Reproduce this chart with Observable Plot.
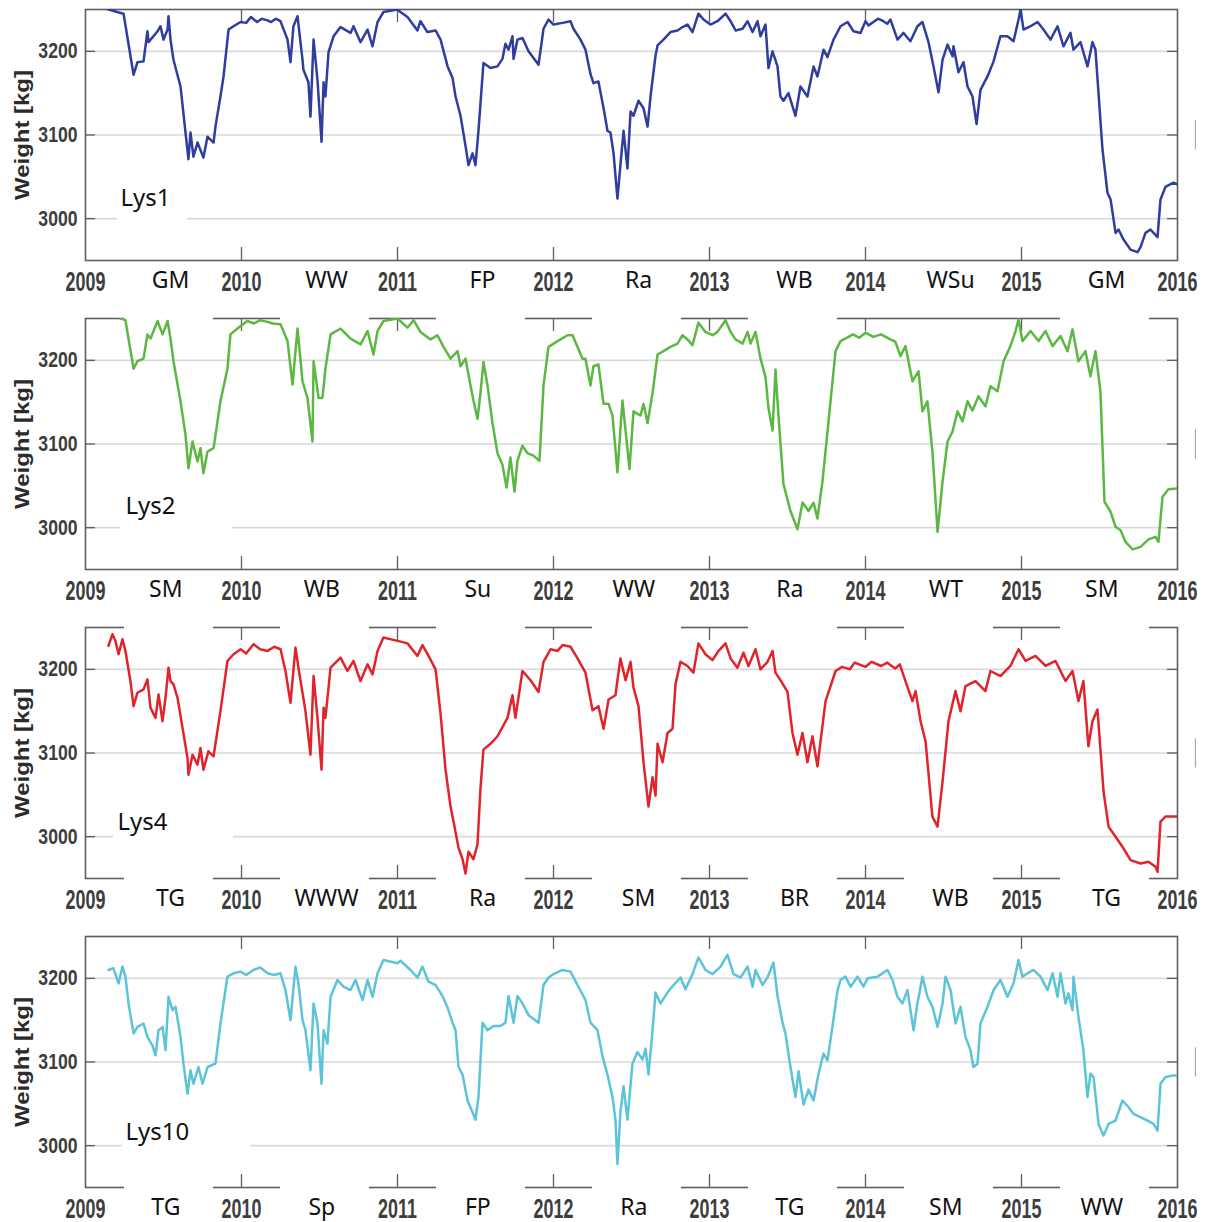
<!DOCTYPE html>
<html><head><meta charset="utf-8">
<script src="https://cdn.jsdelivr.net/npm/d3@7"></script>
<script src="https://cdn.jsdelivr.net/npm/@observablehq/plot@0.6"></script>
<style>body{margin:0;background:#fff}#chart{width:1205px}#chart svg{display:block}</style>
</head><body><div id="chart"></div>
<script>
// ---------- DATA ----------
const years = [2009, 2010, 2011, 2012, 2013, 2014, 2015, 2016];
const cropYears = [2009, 2010, 2011, 2012, 2013, 2014, 2015];
const yTicks = [3000, 3100, 3200];

const lysNames = ["Lys1", "Lys2", "Lys4", "Lys10"];
const lys1Crops = ["GM", "WW", "FP", "Ra", "WB", "WSu", "GM"];
const lys2Crops = ["SM", "WB", "Su", "WW", "Ra", "WT", "SM"];
const lys4Crops = ["TG", "WWW", "Ra", "SM", "BR", "WB", "TG"];
const lys10Crops = ["TG", "Sp", "FP", "Ra", "TG", "SM", "WW"];

// [decimal year, weight kg]
const lys1 = [[2009.147,3250],[2009.244,3245],[2009.308,3172],[2009.333,3187],[2009.372,3188],[2009.397,3224],[2009.404,3211],[2009.462,3224],[2009.481,3230],[2009.500,3214],[2009.526,3226],[2009.532,3242],[2009.545,3214],[2009.564,3190],[2009.609,3158],[2009.641,3103],[2009.660,3071],[2009.673,3103],[2009.692,3074],[2009.718,3091],[2009.756,3073],[2009.782,3098],[2009.821,3091],[2009.833,3110],[2009.865,3146],[2009.885,3170],[2009.917,3226],[2009.949,3230],[2009.994,3235],[2010.030,3234],[2010.060,3241],[2010.100,3235],[2010.130,3239],[2010.167,3237],[2010.190,3235],[2010.220,3239],[2010.250,3236],[2010.295,3214],[2010.314,3187],[2010.333,3230],[2010.359,3242],[2010.391,3190],[2010.397,3178],[2010.429,3163],[2010.442,3122],[2010.462,3214],[2010.487,3166],[2010.513,3092],[2010.526,3163],[2010.538,3146],[2010.558,3199],[2010.590,3218],[2010.635,3229],[2010.699,3222],[2010.718,3230],[2010.763,3211],[2010.808,3226],[2010.840,3206],[2010.872,3235],[2010.910,3247],[2011.000,3250],[2011.019,3247],[2011.064,3241],[2011.128,3225],[2011.147,3236],[2011.192,3223],[2011.244,3225],[2011.276,3214],[2011.321,3182],[2011.353,3168],[2011.372,3146],[2011.404,3123],[2011.436,3087],[2011.455,3064],[2011.481,3078],[2011.500,3064],[2011.519,3105],[2011.551,3186],[2011.596,3180],[2011.641,3182],[2011.673,3191],[2011.692,3209],[2011.712,3202],[2011.737,3218],[2011.744,3191],[2011.769,3214],[2011.801,3216],[2011.840,3200],[2011.904,3184],[2011.936,3227],[2011.968,3238],[2012.000,3232],[2012.058,3234],[2012.109,3236],[2012.128,3227],[2012.173,3214],[2012.205,3202],[2012.237,3173],[2012.256,3162],[2012.288,3164],[2012.321,3132],[2012.346,3105],[2012.365,3103],[2012.385,3078],[2012.410,3024],[2012.429,3064],[2012.449,3105],[2012.474,3060],[2012.494,3128],[2012.513,3123],[2012.545,3141],[2012.577,3132],[2012.603,3110],[2012.622,3146],[2012.654,3195],[2012.667,3207],[2012.705,3214],[2012.750,3223],[2012.795,3225],[2012.827,3229],[2012.859,3232],[2012.891,3223],[2012.929,3245],[2012.962,3238],[2013.006,3232],[2013.051,3236],[2013.103,3245],[2013.135,3236],[2013.167,3225],[2013.212,3227],[2013.244,3236],[2013.276,3223],[2013.308,3236],[2013.327,3218],[2013.359,3232],[2013.378,3180],[2013.404,3200],[2013.436,3182],[2013.455,3146],[2013.474,3141],[2013.506,3150],[2013.551,3123],[2013.583,3158],[2013.628,3146],[2013.667,3182],[2013.692,3170],[2013.731,3202],[2013.756,3193],[2013.795,3214],[2013.840,3230],[2013.885,3235],[2013.923,3224],[2013.968,3222],[2014.000,3236],[2014.020,3231],[2014.051,3235],[2014.080,3239],[2014.115,3236],[2014.140,3233],[2014.160,3238],[2014.205,3214],[2014.244,3222],[2014.288,3212],[2014.333,3230],[2014.365,3235],[2014.404,3211],[2014.436,3182],[2014.468,3151],[2014.494,3190],[2014.526,3208],[2014.558,3194],[2014.564,3206],[2014.596,3175],[2014.628,3187],[2014.654,3158],[2014.686,3146],[2014.712,3113],[2014.737,3154],[2014.782,3170],[2014.821,3188],[2014.865,3218],[2014.910,3218],[2014.949,3212],[2014.981,3238],[2014.994,3250],[2015.013,3226],[2015.058,3230],[2015.103,3235],[2015.141,3226],[2015.186,3214],[2015.231,3230],[2015.269,3206],[2015.314,3222],[2015.333,3202],[2015.378,3211],[2015.423,3182],[2015.455,3211],[2015.474,3202],[2015.519,3083],[2015.551,3031],[2015.571,3023],[2015.603,2983],[2015.622,2987],[2015.654,2975],[2015.699,2963],[2015.744,2960],[2015.763,2966],[2015.795,2983],[2015.827,2987],[2015.872,2978],[2015.891,3023],[2015.923,3038],[2015.974,3043],[2016.000,3041]];

const lys2 = [[2009.224,3250],[2009.256,3248],[2009.308,3190],[2009.333,3199],[2009.372,3202],[2009.397,3231],[2009.417,3226],[2009.462,3247],[2009.494,3231],[2009.526,3247],[2009.545,3226],[2009.564,3199],[2009.609,3151],[2009.641,3111],[2009.660,3071],[2009.686,3103],[2009.718,3079],[2009.737,3095],[2009.756,3065],[2009.782,3091],[2009.821,3095],[2009.865,3151],[2009.910,3190],[2009.929,3231],[2009.974,3238],[2010.038,3247],[2010.080,3244],[2010.120,3248],[2010.167,3246],[2010.200,3244],[2010.250,3243],[2010.295,3223],[2010.327,3171],[2010.359,3238],[2010.391,3175],[2010.423,3155],[2010.455,3103],[2010.462,3199],[2010.494,3155],[2010.519,3155],[2010.538,3190],[2010.571,3231],[2010.635,3238],[2010.699,3226],[2010.763,3219],[2010.808,3235],[2010.846,3207],[2010.872,3235],[2010.910,3247],[2011.000,3250],[2011.064,3239],[2011.103,3248],[2011.147,3234],[2011.212,3225],[2011.256,3230],[2011.295,3216],[2011.340,3202],[2011.385,3211],[2011.404,3193],[2011.436,3202],[2011.468,3170],[2011.487,3152],[2011.513,3130],[2011.532,3161],[2011.551,3198],[2011.577,3170],[2011.609,3125],[2011.641,3089],[2011.673,3075],[2011.699,3048],[2011.724,3084],[2011.750,3043],[2011.769,3080],[2011.801,3098],[2011.833,3089],[2011.872,3086],[2011.910,3080],[2011.936,3170],[2011.968,3216],[2012.000,3220],[2012.045,3225],[2012.090,3230],[2012.122,3230],[2012.154,3216],[2012.186,3202],[2012.205,3202],[2012.237,3170],[2012.256,3193],[2012.288,3195],[2012.321,3148],[2012.353,3148],[2012.378,3134],[2012.410,3066],[2012.442,3152],[2012.462,3116],[2012.487,3070],[2012.513,3139],[2012.558,3134],[2012.577,3148],[2012.603,3125],[2012.635,3161],[2012.667,3207],[2012.705,3211],[2012.750,3216],[2012.795,3220],[2012.827,3230],[2012.859,3225],[2012.891,3218],[2012.929,3245],[2012.974,3234],[2013.019,3230],[2013.051,3234],[2013.103,3248],[2013.135,3234],[2013.167,3225],[2013.212,3220],[2013.244,3234],[2013.263,3220],[2013.295,3234],[2013.327,3202],[2013.359,3180],[2013.378,3143],[2013.404,3116],[2013.423,3189],[2013.442,3134],[2013.474,3052],[2013.519,3020],[2013.564,2998],[2013.596,3030],[2013.635,3020],[2013.667,3030],[2013.692,3011],[2013.724,3055],[2013.763,3127],[2013.808,3211],[2013.840,3223],[2013.870,3226],[2013.920,3231],[2013.960,3227],[2014.000,3233],[2014.050,3228],[2014.100,3231],[2014.150,3226],[2014.192,3222],[2014.224,3205],[2014.256,3217],[2014.301,3175],[2014.340,3187],[2014.365,3139],[2014.397,3151],[2014.429,3091],[2014.462,2995],[2014.494,3055],[2014.526,3103],[2014.558,3115],[2014.590,3139],[2014.622,3127],[2014.654,3151],[2014.686,3140],[2014.724,3157],[2014.769,3145],[2014.801,3169],[2014.846,3163],[2014.885,3199],[2014.929,3217],[2014.962,3235],[2014.981,3249],[2015.006,3223],[2015.058,3235],[2015.109,3223],[2015.154,3235],[2015.199,3217],[2015.250,3229],[2015.295,3211],[2015.327,3237],[2015.365,3199],[2015.410,3211],[2015.442,3181],[2015.474,3211],[2015.506,3163],[2015.532,3031],[2015.571,3019],[2015.603,3001],[2015.635,2997],[2015.667,2983],[2015.712,2974],[2015.763,2977],[2015.814,2986],[2015.859,2989],[2015.878,2983],[2015.904,3037],[2015.942,3046],[2016.000,3047]];

const lys4 = [[2009.147,3228],[2009.173,3242],[2009.192,3234],[2009.212,3218],[2009.237,3236],[2009.256,3222],[2009.288,3186],[2009.308,3156],[2009.333,3172],[2009.372,3176],[2009.397,3188],[2009.417,3154],[2009.449,3142],[2009.468,3170],[2009.494,3138],[2009.513,3166],[2009.532,3202],[2009.545,3186],[2009.564,3182],[2009.590,3166],[2009.622,3130],[2009.654,3094],[2009.660,3074],[2009.686,3098],[2009.718,3086],[2009.737,3106],[2009.756,3080],[2009.788,3102],[2009.821,3096],[2009.865,3150],[2009.910,3210],[2009.949,3218],[2009.994,3224],[2010.030,3219],[2010.077,3230],[2010.120,3224],[2010.167,3222],[2010.210,3227],[2010.250,3224],[2010.282,3198],[2010.314,3160],[2010.346,3226],[2010.365,3202],[2010.391,3172],[2010.410,3150],[2010.442,3098],[2010.462,3192],[2010.487,3142],[2010.513,3080],[2010.526,3154],[2010.538,3142],[2010.571,3202],[2010.635,3214],[2010.679,3198],[2010.718,3210],[2010.763,3186],[2010.808,3206],[2010.840,3194],[2010.872,3222],[2010.910,3238],[2011.000,3234],[2011.064,3231],[2011.128,3216],[2011.160,3229],[2011.199,3216],[2011.244,3200],[2011.276,3147],[2011.308,3080],[2011.340,3036],[2011.359,3018],[2011.391,2987],[2011.417,2973],[2011.436,2956],[2011.455,2982],[2011.487,2973],[2011.513,2991],[2011.532,3058],[2011.551,3104],[2011.596,3111],[2011.641,3120],[2011.679,3133],[2011.705,3142],[2011.737,3169],[2011.756,3142],[2011.801,3198],[2011.853,3187],[2011.904,3173],[2011.936,3209],[2011.981,3224],[2012.026,3222],[2012.058,3229],[2012.109,3227],[2012.154,3213],[2012.205,3196],[2012.250,3151],[2012.288,3156],[2012.321,3129],[2012.353,3164],[2012.397,3169],[2012.429,3213],[2012.462,3187],[2012.494,3209],[2012.513,3178],[2012.545,3156],[2012.577,3089],[2012.609,3036],[2012.635,3071],[2012.654,3049],[2012.667,3111],[2012.699,3089],[2012.731,3124],[2012.763,3129],[2012.782,3182],[2012.814,3209],[2012.859,3204],[2012.897,3196],[2012.929,3231],[2012.974,3218],[2013.019,3211],[2013.058,3222],[2013.103,3231],[2013.135,3213],[2013.179,3202],[2013.218,3220],[2013.250,3204],[2013.295,3224],[2013.327,3200],[2013.372,3209],[2013.404,3222],[2013.423,3196],[2013.455,3187],[2013.500,3173],[2013.532,3124],[2013.564,3098],[2013.596,3124],[2013.628,3089],[2013.660,3120],[2013.692,3084],[2013.744,3162],[2013.808,3198],[2013.850,3203],[2013.900,3200],[2013.930,3208],[2014.000,3203],[2014.040,3209],[2014.100,3204],[2014.140,3208],[2014.190,3201],[2014.220,3206],[2014.256,3186],[2014.301,3162],[2014.321,3174],[2014.353,3138],[2014.385,3114],[2014.429,3024],[2014.462,3012],[2014.494,3066],[2014.532,3138],[2014.577,3174],[2014.609,3150],[2014.641,3180],[2014.705,3186],[2014.769,3174],[2014.801,3198],[2014.865,3192],[2014.929,3204],[2014.981,3224],[2015.026,3210],[2015.090,3216],[2015.154,3204],[2015.218,3210],[2015.282,3186],[2015.327,3198],[2015.365,3162],[2015.397,3186],[2015.429,3108],[2015.455,3138],[2015.487,3152],[2015.526,3054],[2015.558,3012],[2015.603,3000],[2015.647,2988],[2015.699,2972],[2015.763,2968],[2015.814,2970],[2015.859,2964],[2015.872,2958],[2015.891,3018],[2015.923,3024],[2016.000,3024]];

const lys10 = [[2009.147,3210],[2009.179,3212],[2009.212,3194],[2009.237,3214],[2009.256,3202],[2009.276,3170],[2009.308,3134],[2009.333,3142],[2009.372,3146],[2009.397,3130],[2009.429,3120],[2009.449,3108],[2009.468,3138],[2009.494,3142],[2009.513,3114],[2009.532,3178],[2009.558,3162],[2009.577,3166],[2009.609,3130],[2009.628,3098],[2009.654,3062],[2009.673,3090],[2009.692,3074],[2009.724,3094],[2009.750,3074],[2009.782,3094],[2009.833,3098],[2009.865,3146],[2009.910,3202],[2009.949,3206],[2009.994,3208],[2010.030,3204],[2010.077,3210],[2010.120,3213],[2010.167,3206],[2010.210,3204],[2010.250,3206],[2010.282,3186],[2010.314,3150],[2010.346,3214],[2010.365,3194],[2010.391,3150],[2010.410,3138],[2010.442,3090],[2010.462,3170],[2010.487,3146],[2010.513,3074],[2010.526,3138],[2010.551,3122],[2010.571,3178],[2010.615,3198],[2010.654,3190],[2010.699,3186],[2010.731,3198],[2010.776,3174],[2010.808,3198],[2010.840,3178],[2010.872,3206],[2010.910,3222],[2011.000,3218],[2011.019,3221],[2011.083,3210],[2011.128,3201],[2011.160,3214],[2011.199,3196],[2011.244,3192],[2011.288,3179],[2011.321,3165],[2011.353,3147],[2011.372,3138],[2011.391,3094],[2011.417,3085],[2011.449,3054],[2011.481,3040],[2011.500,3031],[2011.519,3058],[2011.545,3147],[2011.577,3138],[2011.615,3143],[2011.660,3143],[2011.692,3147],[2011.712,3179],[2011.744,3147],[2011.769,3179],[2011.801,3170],[2011.840,3156],[2011.904,3147],[2011.936,3192],[2011.968,3201],[2012.000,3205],[2012.058,3210],[2012.109,3208],[2012.154,3192],[2012.205,3174],[2012.237,3147],[2012.282,3138],[2012.314,3107],[2012.346,3085],[2012.378,3058],[2012.397,3031],[2012.410,2978],[2012.429,3040],[2012.449,3071],[2012.474,3031],[2012.506,3098],[2012.538,3112],[2012.571,3103],[2012.590,3116],[2012.609,3085],[2012.635,3138],[2012.654,3183],[2012.686,3170],[2012.731,3183],[2012.769,3192],[2012.814,3201],[2012.846,3187],[2012.891,3205],[2012.929,3225],[2012.974,3210],[2013.019,3205],[2013.071,3214],[2013.115,3228],[2013.154,3205],[2013.199,3201],[2013.244,3214],[2013.276,3190],[2013.295,3210],[2013.340,3192],[2013.372,3201],[2013.410,3219],[2013.436,3179],[2013.468,3147],[2013.487,3134],[2013.519,3094],[2013.551,3058],[2013.571,3089],[2013.603,3049],[2013.635,3067],[2013.667,3054],[2013.699,3086],[2013.731,3110],[2013.756,3102],[2013.788,3142],[2013.821,3186],[2013.840,3198],[2013.872,3202],[2013.904,3190],[2013.949,3202],[2013.987,3190],[2014.013,3200],[2014.077,3202],[2014.141,3210],[2014.173,3198],[2014.205,3178],[2014.237,3170],[2014.269,3186],[2014.308,3138],[2014.333,3170],[2014.365,3202],[2014.397,3178],[2014.429,3166],[2014.462,3142],[2014.494,3170],[2014.513,3202],[2014.545,3186],[2014.577,3146],[2014.609,3166],[2014.641,3130],[2014.673,3114],[2014.692,3094],[2014.718,3098],[2014.737,3146],[2014.782,3166],[2014.821,3186],[2014.865,3198],[2014.910,3178],[2014.949,3194],[2014.981,3222],[2015.006,3202],[2015.038,3206],[2015.077,3210],[2015.122,3202],[2015.167,3186],[2015.199,3206],[2015.231,3178],[2015.250,3206],[2015.282,3170],[2015.301,3182],[2015.327,3162],[2015.333,3202],[2015.365,3154],[2015.397,3114],[2015.423,3058],[2015.442,3086],[2015.462,3082],[2015.494,3026],[2015.526,3012],[2015.558,3026],[2015.603,3030],[2015.647,3054],[2015.686,3046],[2015.718,3038],[2015.763,3034],[2015.808,3030],[2015.846,3026],[2015.872,3018],[2015.891,3074],[2015.923,3082],[2015.974,3084],[2016.000,3084]];

// label placement (years / kg)
const lysLabelYear = [2009.224, 2009.256, 2009.205, 2009.256];
const lysLabelKg = [3024, 3026, 3017, 3016];
const lysBoxFrom = [2009.205, 2009.224, 2009.179, 2009.237];
const lysBoxTo = [2009.654, 2009.942, 2009.949, 2010.058];
const cropOffset = [0.545, 0.515, 0.545, 0.515];
const colors = ["#2f3d9e", "#5cb843", "#e0242b", "#5cc4d8"];

// which frame edges are interrupted by white label boxes
const topGapYears = [[], [2009, 2010, 2011, 2012, 2013, 2015], cropYears, []];
const bottomGapYears = [[], [], cropYears, cropYears];

const seriesList = [lys1, lys2, lys4, lys10];
const cropList = [lys1Crops, lys2Crops, lys4Crops, lys10Crops];

// ---------- DRAW ----------
const chart = document.getElementById("chart");
const innerYears = years.slice(1, -1);
const FRAME = "#5e5e5e";

function squeeze(svg, size, sx, sy) {
  svg.querySelectorAll(`g[font-size="${size}"] > text`).forEach(t => {
    t.setAttribute("transform", (t.getAttribute("transform") || "") + ` scale(${sx},${sy})`);
  });
}

for (let p = 0; p < 4; p++) {
  const crops = cropList[p].map((c, i) => ({c, x: cropYears[i] + cropOffset[p]}));
  const topGaps = topGapYears[p].map(y => ({x1: y + 0.25, x2: y + 0.82}));
  const botGaps = bottomGapYears[p].map(y => ({x1: y + 0.25, x2: y + 0.82}));
  const svg = Plot.plot({
    width: 1205, height: 309,
    marginLeft: 85, marginRight: 28, marginTop: 9, marginBottom: 49,
    style: {background: "white", overflow: "visible"},
    x: {domain: [2009, 2016], axis: null},
    y: {domain: [2950, 3250], axis: null},
    marks: [
      Plot.ruleY(yTicks, {stroke: "#d9d9d9", strokeWidth: 1.6}),
      Plot.rect([0], {x1: lysBoxFrom[p], x2: lysBoxTo[p], y1: 2992, y2: 3048, fill: "white"}),
      Plot.frame({stroke: FRAME, strokeWidth: 1.6}),
      Plot.ruleX(innerYears, {y1: 2950, y2: 2965.5, stroke: FRAME, strokeWidth: 1.3}),
      Plot.ruleX(innerYears, {y1: 3250, y2: 3234.5, stroke: FRAME, strokeWidth: 1.3}),
      Plot.ruleY(yTicks, {x1: 2009, x2: 2009.064, stroke: FRAME, strokeWidth: 1.3}),
      Plot.ruleY(yTicks, {x1: 2016, x2: 2015.936, stroke: FRAME, strokeWidth: 1.3}),
      Plot.rect(topGaps, {x1: "x1", x2: "x2", y1: 3245, y2: 3256, fill: "white"}),
      Plot.rect(botGaps, {x1: "x1", x2: "x2", y1: 2944, y2: 2955, fill: "white"}),
      Plot.ruleX([2016.115], {y1: 3082, y2: 3117, stroke: "#aaa", strokeWidth: 1.2}),
      Plot.line(seriesList[p], {x: d => d[0], y: d => d[1], stroke: colors[p], strokeWidth: 2.5, strokeLinejoin: "round", clip: true}),
      // y tick labels
      Plot.text(yTicks, {y: d => d, text: d => String(d), frameAnchor: "left", dx: -8, textAnchor: "end",
        fontFamily: "Liberation Sans, Arial, sans-serif", fontWeight: "bold", fontSize: 22, fill: "#3d3d3d"}),
      // year labels
      Plot.text(years, {x: d => d, text: d => String(d), frameAnchor: "bottom", dy: 22, lineAnchor: "middle",
        fontFamily: "Liberation Sans, Arial, sans-serif", fontWeight: "bold", fontSize: 28, fill: "#3d3d3d"}),
      // crop labels
      Plot.text(crops, {x: "x", text: "c", frameAnchor: "bottom", dy: 20, lineAnchor: "middle",
        fontFamily: "Noto Sans, sans-serif", fontSize: 23, fill: "#111"}),
      // lysimeter label
      Plot.text([lysNames[p]], {x: lysLabelYear[p], y: lysLabelKg[p], text: d => d, textAnchor: "start", lineAnchor: "middle",
        fontFamily: "Noto Sans, sans-serif", fontSize: 24, fill: "#111"}),
      // y title
      Plot.text(["Weight [kg]"], {frameAnchor: "left", dx: -63, rotate: -90, text: d => d, textAnchor: "middle", lineAnchor: "middle",
        fontFamily: "Liberation Sans, Arial, sans-serif", fontWeight: "bold", fontSize: 21, fill: "#2b2b2b"})
    ]
  });
  squeeze(svg, 22, 0.8, 1);
  squeeze(svg, 28, 0.64, 1);
  squeeze(svg, 21, 1.14, 1);
  chart.appendChild(svg);
}
</script></body></html>
